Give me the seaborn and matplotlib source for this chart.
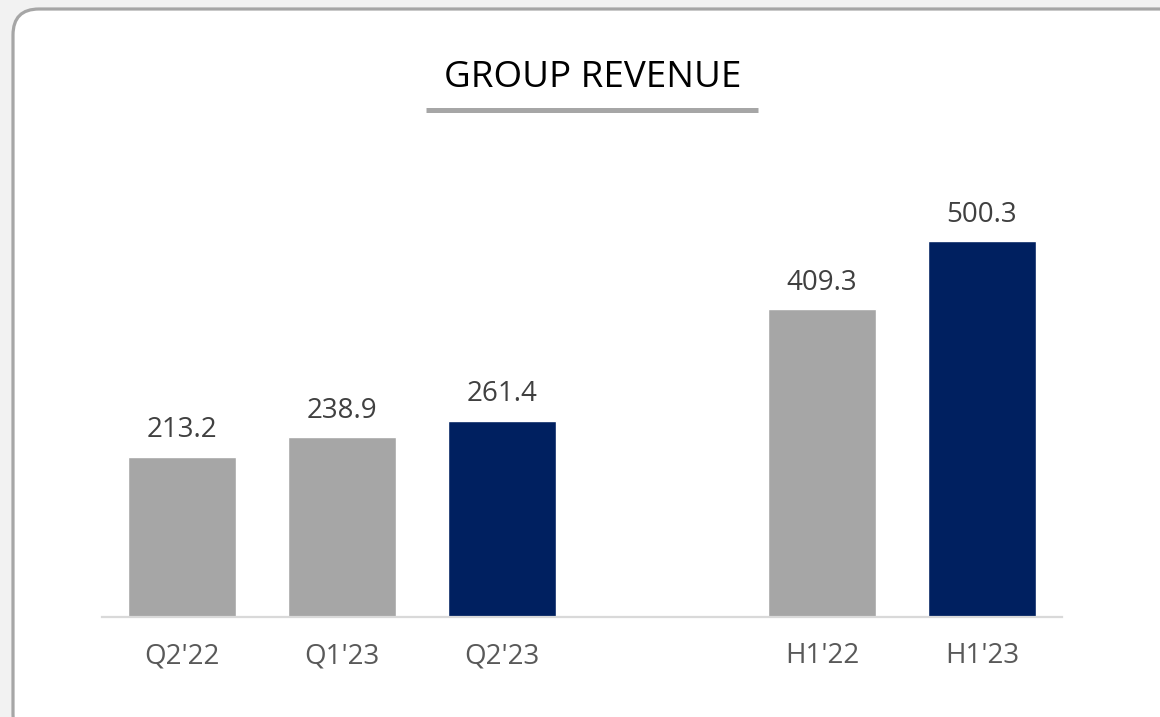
import pandas as pd
import matplotlib.pyplot as plt
import seaborn as sns
from matplotlib.patches import FancyBboxPatch
from matplotlib.lines import Line2D
from matplotlib.transforms import IdentityTransform

# data
periods = ["Q2'22", "Q1'23", "Q2'23", "H1'22", "H1'23"]
revenue = [213.2, 238.9, 261.4, 409.3, 500.3]
bar_colors = ["#A6A6A6", "#A6A6A6", "#002060", "#A6A6A6", "#002060"]
slot_order = ["Q2'22", "Q1'23", "Q2'23", " ", "H1'22", "H1'23"]

df = pd.DataFrame({"period": periods, "revenue": revenue})

sns.set_theme(style="white")
plt.rcParams['font.family'] = ['Open Sans', 'DejaVu Sans']

W, H = 1160, 717
fig = plt.figure(figsize=(W / 100, H / 100), dpi=100)
fig.patch.set_facecolor("#F2F2F2")

# rounded white card behind the chart (pixel coords, origin bottom-left)
card = FancyBboxPatch((13, H - 740), 1172, 731,
                      boxstyle="round,pad=0,rounding_size=26",
                      transform=IdentityTransform(), facecolor="white",
                      edgecolor="#A6A6A6", linewidth=2.3, zorder=-5)
fig.patches.append(card)

# title + underline
fig.text(593 / W, 1 - 87 / H, "GROUP REVENUE", ha="center", va="baseline",
         fontsize=26.5, color="black")
fig.add_artist(Line2D([426 / W, 758 / W], [1 - 109.5 / H, 1 - 109.5 / H],
                      transform=fig.transFigure, color="#A6A6A6", linewidth=3.6,
                      solid_capstyle="butt"))

ax = fig.add_axes([102 / W, 1 - 617 / H, 960 / W, 417 / H])
ax.set_facecolor("none")
ax.set_zorder(2)

sns.barplot(data=df, x="period", y="revenue", hue="period", order=slot_order,
            hue_order=periods, palette=bar_colors, width=0.68, legend=False,
            saturation=1, ax=ax)

ax.set_xlim(-0.5, 5.5)
ax.set_ylim(0, 417 / 0.7516)

for i, p in enumerate(slot_order):
    if p in periods:
        v = revenue[periods.index(p)]
        ax.annotate(f"{v:.1f}", (i, v), xytext=(0, 14), textcoords="offset points",
                    ha="center", va="baseline", fontsize=20, color="#404040")

ax.set_xlabel("")
ax.set_ylabel("")
ax.set_yticks([])
ax.tick_params(axis="x", length=0, pad=18, labelsize=20, labelcolor="#595959")
for s in ["top", "left", "right"]:
    ax.spines[s].set_visible(False)
ax.spines["bottom"].set_color("#D9D9D9")
ax.spines["bottom"].set_linewidth(1.6)

fig.savefig("out.png", dpi=100, facecolor=fig.get_facecolor())
